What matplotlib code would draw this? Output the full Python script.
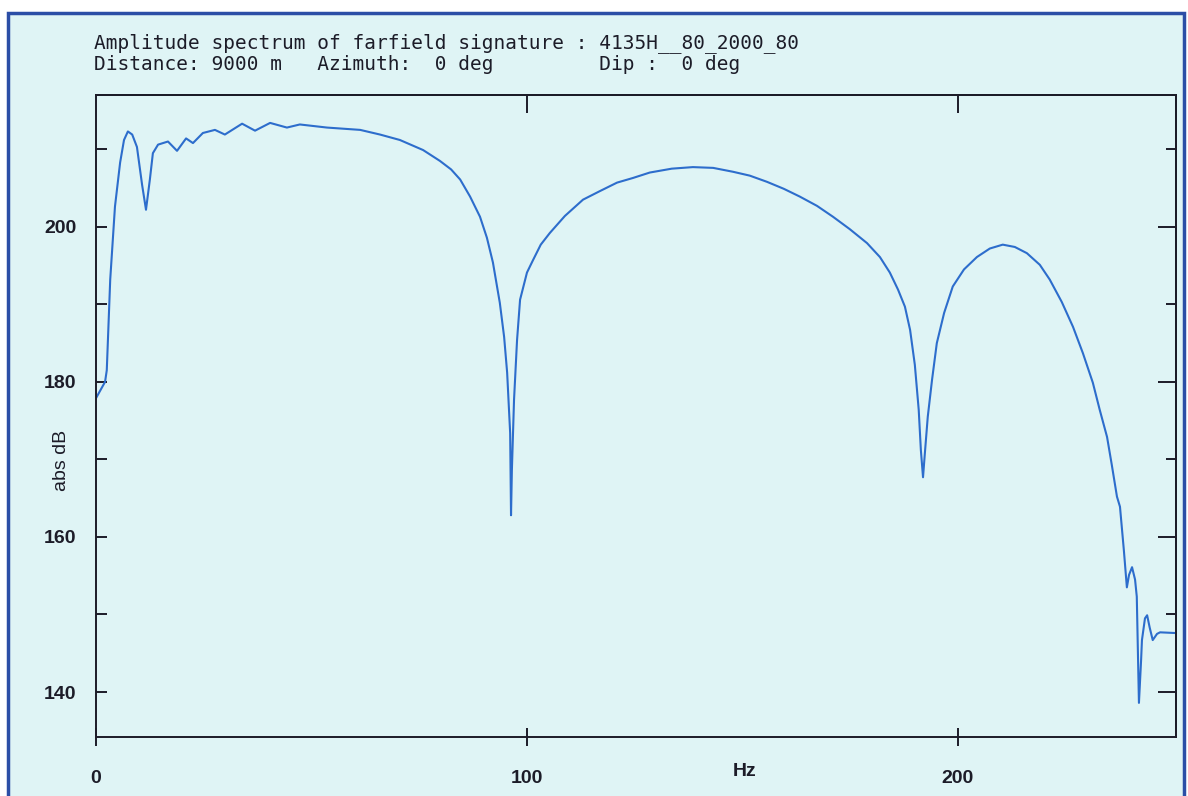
import matplotlib.pyplot as plt
from matplotlib.patches import Rectangle

# amplitude spectrum (Hz, dB)
freq = [0.0, 2.1, 2.5, 3.3, 4.4, 5.6, 6.5, 7.4, 8.4, 9.5, 10.7, 11.6, 12.5,
        13.2, 14.4, 16.7, 18.8, 20.9, 22.5, 24.8, 27.6, 29.9, 33.9, 36.9,
        40.4, 44.3, 47.3, 53.6, 61.3, 65.9, 70.5, 75.9, 79.8, 82.4, 84.5,
        86.8, 89.1, 90.7, 92.1, 93.7, 94.7, 95.4, 96.1, 96.3, 96.5, 97.0,
        97.7, 98.4, 100.0, 101.4, 103.2, 105.3, 108.8, 113.0, 116.9, 120.9,
        124.6, 128.5, 133.6, 138.5, 143.2, 147.8, 151.7, 155.7, 159.6, 163.3,
        167.3, 171.0, 174.9, 178.9, 181.9, 184.2, 186.1, 187.7, 188.9, 190.0,
        190.9, 191.4, 191.9, 192.3, 193.0, 194.0, 195.1, 196.8, 198.8, 201.4,
        204.4, 207.4, 210.4, 213.2, 216.0, 219.0, 221.3, 224.1, 226.7, 229.0,
        231.3, 232.9, 234.6, 235.7, 236.9, 237.6, 238.5, 239.2, 239.7, 240.4,
        241.1, 241.5, 242.0, 242.5, 242.7, 243.4, 243.9, 244.5, 245.2, 246.2,
        246.9, 250.8]
ampl = [177.9, 180.0, 181.5, 193.2, 202.6, 208.3, 211.2, 212.3, 211.9, 210.3,
        205.4, 202.2, 206.1, 209.5, 210.6, 211.0, 209.8, 211.4, 210.8, 212.1,
        212.5, 211.9, 213.3, 212.4, 213.4, 212.8, 213.2, 212.8, 212.5, 211.9,
        211.2, 209.9, 208.5, 207.4, 206.1, 203.9, 201.3, 198.6, 195.4, 190.2,
        185.8, 181.2, 173.4, 162.8, 168.6, 177.7, 185.4, 190.6, 194.1, 195.7,
        197.7, 199.2, 201.4, 203.5, 204.6, 205.7, 206.3, 207.0, 207.5, 207.7,
        207.6, 207.1, 206.6, 205.8, 204.9, 203.9, 202.7, 201.3, 199.7, 197.9,
        196.1, 194.1, 191.9, 189.7, 186.7, 182.2, 176.4, 171.2, 167.7, 170.6,
        175.5, 180.3, 185.0, 188.9, 192.3, 194.5, 196.1, 197.2, 197.7, 197.4,
        196.6, 195.1, 193.2, 190.3, 187.1, 183.7, 179.9, 176.4, 172.9, 169.3,
        165.2, 163.9, 158.3, 153.5, 155.1, 156.1, 154.5, 152.3, 138.6, 144.1,
        146.7, 149.5, 149.9, 148.3, 146.7, 147.5, 147.7, 147.6]

title1 = "Amplitude spectrum of farfield signature : 4135H__80_2000_80"
title2 = "Distance: 9000 m   Azimuth:  0 deg         Dip :  0 deg"

bg = '#dff4f5'
ink = '#1c1c28'
W, H = 1188, 796

fig = plt.figure(figsize=(W / 100, H / 100), dpi=100, facecolor='white')
fig.patches.append(Rectangle((8 / W, -0.02), 1176 / W, 1 - 13 / H + 0.02,
                             transform=fig.transFigure, facecolor=bg,
                             edgecolor='#2b4ea6', lw=2.5, zorder=-5))

ax = fig.add_axes([96 / W, 1 - 737 / H, (1176 - 96) / W, (737 - 95) / H])
ax.set_zorder(2)
ax.set_facecolor(bg)
ax.plot(freq, ampl, color='#2d6dcc', lw=1.5)
ax.set_xlim(0, 250.6)
ax.set_ylim(134.2, 217.0)

for s in ax.spines.values():
    s.set_linewidth(1.4)
    s.set_color(ink)

tickfont = {'family': 'Liberation Sans', 'weight': 'bold', 'size': 14}
ax.set_xticks([0, 100, 200])
ax.set_xticklabels(['0', '100', '200'], fontdict=tickfont)
ax.set_yticks([140, 160, 180, 200])
ax.set_yticklabels(['140', '160', '180', '200'], fontdict=tickfont)
ax.set_yticks([150, 170, 190, 210], minor=True)
ax.tick_params(axis='x', direction='inout', length=13, width=1.4, pad=17,
               colors=ink)
ax.tick_params(axis='y', which='both', direction='in', length=8, width=1.4,
               pad=14, colors=ink)

top = ax.secondary_xaxis('top')
top.set_xticks([100, 200])
top.tick_params(direction='in', length=13, width=1.4, labeltop=False,
                colors=ink)
right = ax.secondary_yaxis('right')
right.set_yticks([140, 160, 180, 200])
right.set_yticks([150, 170, 190, 210], minor=True)
right.tick_params(which='major', direction='in', length=13, width=1.4,
                  labelright=False, colors=ink)
right.tick_params(which='minor', direction='in', length=7, width=1.4,
                  colors=ink)
for sec in (top, right):
    for s in sec.spines.values():
        s.set_linewidth(1.4)
        s.set_color(ink)

fig.text(62 / W, 1 - 460 / H, 'abs dB', rotation=90, ha='center', va='center',
         family='Liberation Sans', fontsize=14, color=ink)
fig.text(745 / W, 1 - 771 / H, 'Hz', ha='center', va='center',
         family='Liberation Sans', weight='bold', fontsize=14, color=ink)

fig.text(94 / W, 1 - 43 / H, title1, ha='left', va='center',
         family='DejaVu Sans Mono', fontsize=14, color=ink)
fig.text(94 / W, 1 - 65 / H, title2, ha='left', va='center',
         family='DejaVu Sans Mono', fontsize=14, color=ink)

fig.savefig('out.png', dpi=100, facecolor=fig.get_facecolor())
